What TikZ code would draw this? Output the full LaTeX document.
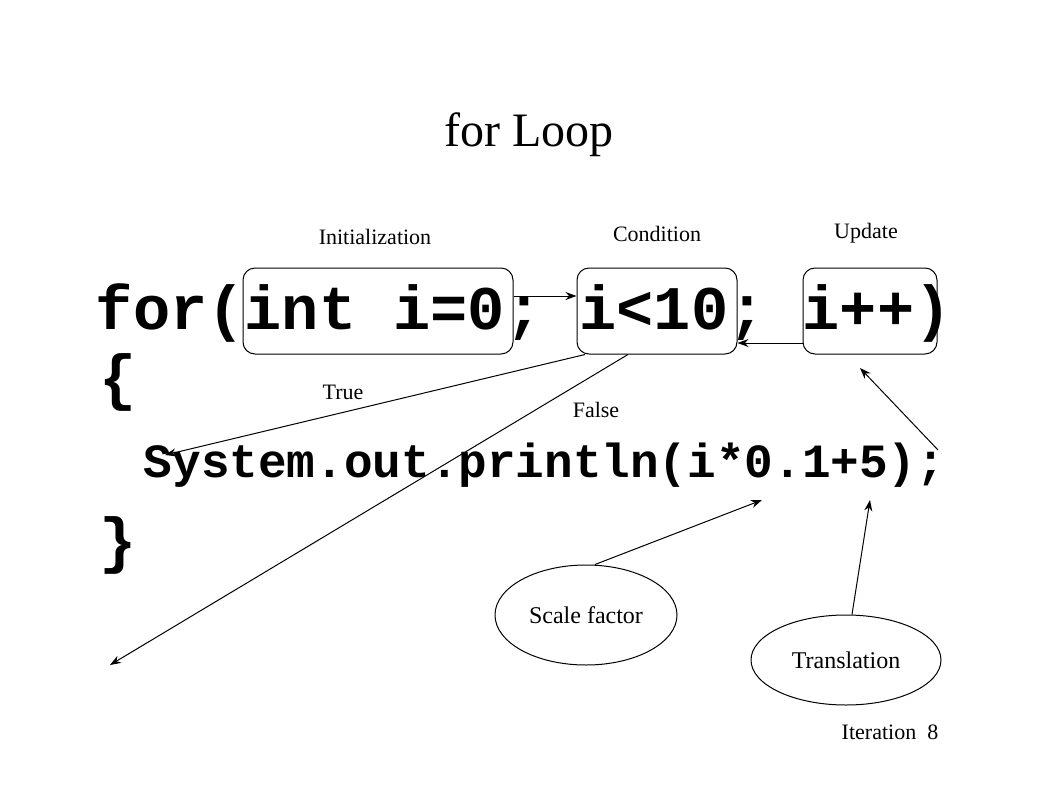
\documentclass[tikz,border=0pt]{standalone}
\usepackage{fontspec}
\setmainfont{Liberation Serif}
\setmonofont{Liberation Mono}
\usetikzlibrary{shapes.geometric,arrows.meta}
\begin{document}
\begin{tikzpicture}[x=1pt, y=-1pt, line width=1pt,
  codebox/.style={draw, rounded corners=12pt, minimum height=86pt, inner sep=0pt},
  lbl/.style={font=\fontsize{22}{24}\selectfont},
  oval/.style={draw, ellipse, font=\fontsize{24}{26}\selectfont},
  arr/.style={-{Stealth[length=11pt,width=8pt]}}]
\useasboundingbox (0,0) rectangle (1058,793);
\node[font=\fontsize{48}{52}\selectfont] (title) at (529,135) {for Loop};
\node[anchor=west, font=\ttfamily\bfseries\fontsize{62}{64}\selectfont] (head) at (92,313) {for(int i=0; i<10; i++)};
\node[font=\ttfamily\bfseries\fontsize{62}{64}\selectfont] (open) at (118,382) {\{};
\node[anchor=west, font=\ttfamily\bfseries\fontsize{47.7}{50}\selectfont] (body) at (140,465) {System.out.println(i*0.1+5);};
\node[font=\ttfamily\bfseries\fontsize{62}{64}\selectfont] (close) at (118,545) {\}};
%% boxes round the three parts
\node[codebox, minimum width=270pt] (init) at (378,311) {};
\node[codebox, minimum width=160pt] (cond) at (657,311) {};
\node[codebox, minimum width=134pt] (upd) at (870,311) {};
\node[lbl] (linit) at (375,237) {Initialization};
\node[lbl] (lcond) at (657,234) {Condition};
\node[lbl] (lupd) at (866,233) {Update};
\node[lbl] (ltrue) at (343,392) {True};
\node[lbl] (lfalse) at (596,410) {False};
\node[oval, minimum width=182pt, minimum height=100pt] (scale) at (586,615) {Scale factor};
\node[oval, minimum width=190pt, minimum height=90pt] (trans) at (846,660) {Translation};
\node[lbl] (iter) at (890,732) {Iteration\ \ 8};
\coordinate (tend) at (165,455);
\coordinate (fend) at (110,665);
\coordinate (ustart) at (938,450);
\coordinate (uend) at (860,368);
\coordinate (send) at (762,500);
\coordinate (trend) at (870,500);
\draw[arr] ([yshift=15pt]init.east) -- ([yshift=15pt]cond.west);
\draw[arr] ([yshift=-32pt]upd.west) -- ([yshift=-32pt]cond.east);
\draw[arr] ([xshift=-72pt]cond.south) -- (tend);
\draw[arr] ([xshift=-29pt]cond.south) -- (fend);
\draw[arr] (ustart) -- (uend);
\draw[arr] ([xshift=9pt]scale.north) -- (send);
\draw[arr] ([xshift=6pt]trans.north) -- (trend);
\end{tikzpicture}
\end{document}
